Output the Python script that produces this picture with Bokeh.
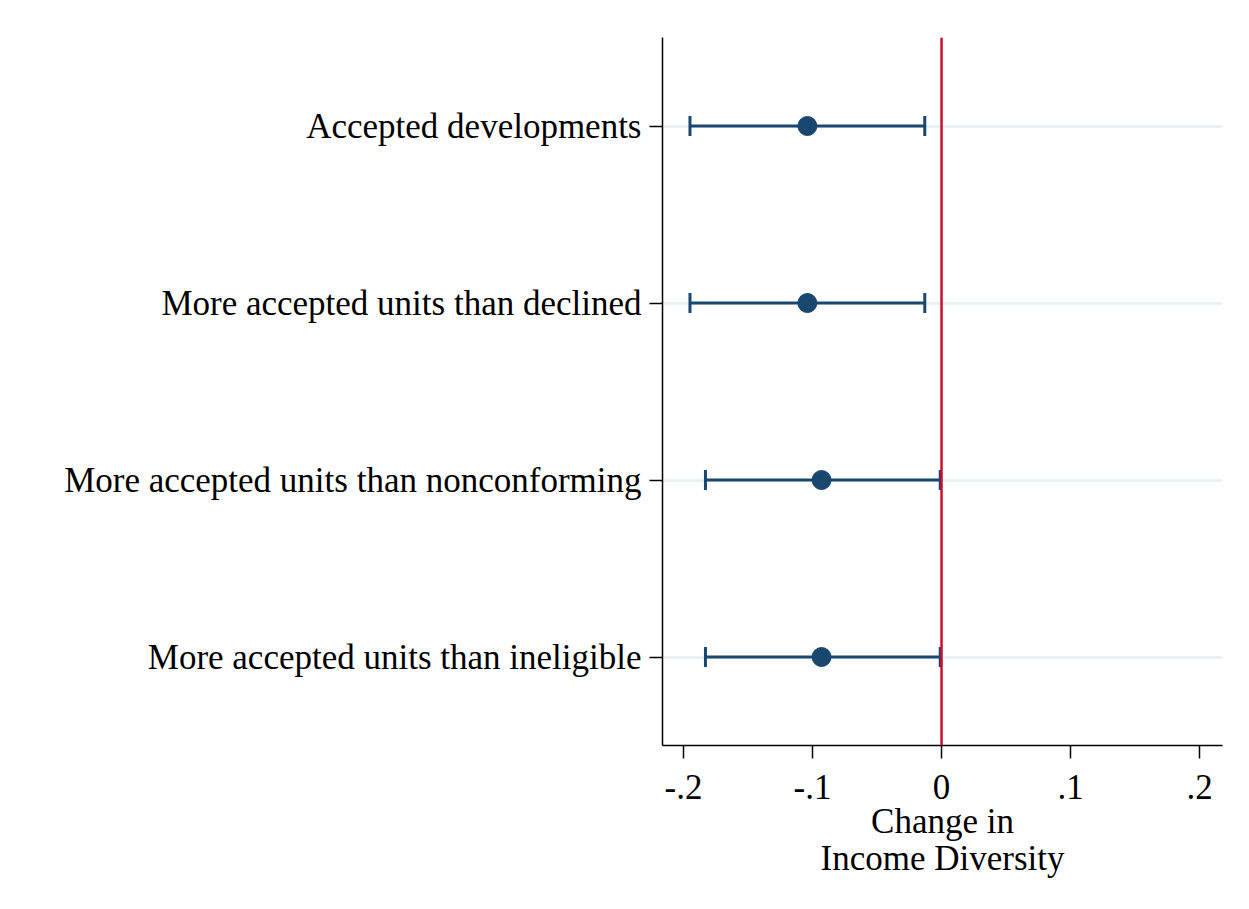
from bokeh.plotting import figure
from bokeh.models import FixedTicker, Whisker, ColumnDataSource, Span, TeeHead
from bokeh.embed import file_html
from bokeh.resources import INLINE

categories = ["Accepted developments", "More accepted units than declined",
              "More accepted units than nonconforming", "More accepted units than ineligible"]
positions = [4, 3, 2, 1]
estimates = [-0.104, -0.104, -0.093, -0.093]
ci_low = [-0.195, -0.195, -0.183, -0.183]
ci_high = [-0.013, -0.013, -0.001, -0.001]
x_ticks = [-0.2, -0.1, 0, 0.1, 0.2]
x_tick_labels = ["-.2", "-.1", "0", ".1", ".2"]

FONT = "Liberation Serif"
NAVY = "#1a476f"

p = figure(width=1241, height=900, x_range=(-0.2163, 0.2178), y_range=(0.5, 4.5),
           output_backend="svg", toolbar_location=None,
           min_border_left=662, min_border_right=19, min_border_top=37, min_border_bottom=155)
p.outline_line_color = None
p.background_fill_color = "white"
p.border_fill_color = "white"

src = ColumnDataSource(dict(y=positions, est=estimates, lo=ci_low, hi=ci_high))

p.xgrid.grid_line_color = None
p.ygrid.grid_line_color = "#e6eff1"
p.ygrid.grid_line_width = 2.5

p.add_layout(Span(location=0, dimension="height", line_color="#c8102e", line_width=2.5))

w = Whisker(source=src, base="y", lower="lo", upper="hi", dimension="width",
            line_color=NAVY, line_width=3,
            lower_head=TeeHead(size=20, line_color=NAVY, line_width=3),
            upper_head=TeeHead(size=20, line_color=NAVY, line_width=3))
p.add_layout(w)
p.scatter(x="est", y="y", source=src, size=19, color=NAVY)

p.yaxis.ticker = FixedTicker(ticks=positions)
p.yaxis.major_label_overrides = {pos: c for pos, c in zip(positions, categories)}
p.xaxis.ticker = FixedTicker(ticks=x_ticks)
p.xaxis.major_label_overrides = {t: l for t, l in zip(x_ticks, x_tick_labels)}
p.xaxis.axis_label = "Change in\nIncome Diversity"

for ax in (p.xaxis, p.yaxis):
    ax.axis_line_color = "black"
    ax.axis_line_width = 1.5
    ax.major_tick_line_color = "black"
    ax.major_tick_line_width = 1.5
    ax.major_tick_out = 13
    ax.major_tick_in = 0
    ax.minor_tick_line_color = None
    ax.major_label_text_font = FONT
    ax.major_label_text_font_size = "35px"
    ax.major_label_text_color = "black"
    ax.axis_label_text_font = FONT
    ax.axis_label_text_font_size = "35px"
    ax.axis_label_text_font_style = "normal"
    ax.axis_label_text_color = "black"

p.xaxis.axis_label_text_line_height = 0.97
p.yaxis.major_label_standoff = 8
p.xaxis.major_label_standoff = 16
p.xaxis.axis_label_standoff = 0

open("out.html", "w").write(file_html(p, INLINE))
